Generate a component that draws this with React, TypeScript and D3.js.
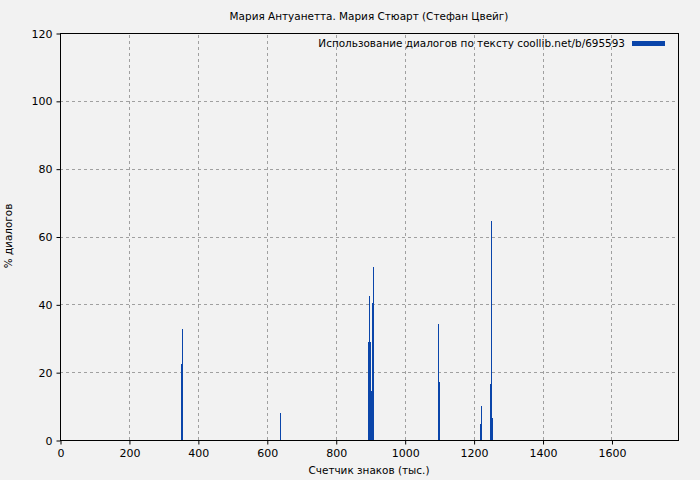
import React, { useRef, useEffect } from 'react';
import * as d3 from 'd3';

// Chart data (counter in thousands of chars, % of dialogues)
const positions = [352, 355, 640, 895, 898, 901, 904, 907, 910, 1098, 1101, 1220, 1223, 1249, 1252, 1255];
const percents = [22.4, 32.7, 8.0, 28.9, 42.4, 28.9, 14.4, 40.4, 51.0, 34.2, 17.1, 4.7, 10.0, 16.5, 64.6, 6.5];
const xTicks = [0, 200, 400, 600, 800, 1000, 1200, 1400, 1600];
const yTicks = [0, 20, 40, 60, 80, 100, 120];

const title = 'Мария Антуанетта. Мария Стюарт (Стефан Цвейг)';
const legendLabel = 'Использование диалогов по тексту coollib.net/b/695593';

const W = 700;
const H = 480;
const margin = { top: 33, right: 22, bottom: 40, left: 60 };
const barColor = '#0a45aa';
const font = 'DejaVu Sans, sans-serif';
const labelSize = 10.45;

export default function App() {
  const svgRef = useRef<SVGSVGElement>(null);

  useEffect(() => {
    if (!svgRef.current) return;
    const svg = d3.select(svgRef.current);
    svg.selectAll('*').remove();

    const x = d3.scaleLinear().domain([0, 1793]).range([margin.left, W - margin.right]);
    const y = d3.scaleLinear().domain([0, 120]).range([H - margin.bottom, margin.top]);

    svg.append('rect').attr('width', W).attr('height', H).attr('fill', '#f2f2f2');

    // grid
    const grid = svg.append('g').attr('stroke', '#a0a0a0').attr('stroke-dasharray', '3,3').attr('stroke-width', 1);
    xTicks.filter(t => t > 0).forEach(t => {
      grid.append('line')
        .attr('x1', Math.round(x(t)) + 0.5).attr('x2', Math.round(x(t)) + 0.5)
        .attr('y1', y(0)).attr('y2', y(120));
    });
    yTicks.filter(t => t > 0 && t < 120).forEach(t => {
      grid.append('line')
        .attr('x1', x(0)).attr('x2', x.range()[1])
        .attr('y1', Math.round(y(t)) + 0.5).attr('y2', Math.round(y(t)) + 0.5);
    });

    // bars
    svg.append('g')
      .selectAll('rect')
      .data(positions.map((p, i) => ({ p, v: percents[i] })))
      .enter().append('rect')
      .attr('x', d => Math.floor(x(d.p)))
      .attr('width', 1)
      .attr('y', d => Math.round(y(d.v)))
      .attr('height', d => Math.round(y(0)) - Math.round(y(d.v)))
      .attr('fill', barColor)
      .attr('shape-rendering', 'crispEdges');

    // frame
    svg.append('rect')
      .attr('x', x(0) + 0.5).attr('y', y(120) + 0.5)
      .attr('width', x.range()[1] - x(0)).attr('height', y(0) - y(120))
      .attr('fill', 'none').attr('stroke', '#000').attr('stroke-width', 1);

    // axes
    const xAxis = d3.axisBottom(x).tickValues(xTicks).tickSize(4).tickFormat(d3.format('d'));
    const gx = svg.append('g').attr('transform', `translate(0.5,${Math.round(y(0)) + 0.5})`).call(xAxis);
    gx.select('.domain').remove();
    gx.selectAll('text').attr('font-family', font).attr('font-size', 11).attr('fill', '#000').attr('dy', '0.9em');

    const yAxis = d3.axisLeft(y).tickValues(yTicks).tickSize(4);
    const gy = svg.append('g').attr('transform', `translate(${x(0) + 0.5},0.5)`).call(yAxis);
    gy.select('.domain').remove();
    gy.selectAll('text').attr('font-family', font).attr('font-size', 11).attr('fill', '#000').attr('x', -8);

    // title and labels
    svg.append('text').attr('x', 369).attr('y', 20).attr('text-anchor', 'middle')
      .attr('font-family', font).attr('font-size', labelSize).text(title);
    svg.append('text').attr('x', 369).attr('y', 474).attr('text-anchor', 'middle')
      .attr('font-family', font).attr('font-size', labelSize).text('Счетчик знаков (тыс.)');
    svg.append('text').attr('transform', 'translate(12,236) rotate(-90)').attr('text-anchor', 'middle')
      .attr('font-family', font).attr('font-size', labelSize).text('% диалогов');

    // legend
    svg.append('text').attr('x', 625).attr('y', 47).attr('text-anchor', 'end')
      .attr('font-family', font).attr('font-size', labelSize).text(legendLabel);
    svg.append('rect').attr('x', 632).attr('y', 41).attr('width', 33).attr('height', 5).attr('fill', barColor);
  }, []);

  return <svg ref={svgRef} width={W} height={H} style={{ display: 'block', position: 'absolute', left: 0, top: 0 }} />;
}
